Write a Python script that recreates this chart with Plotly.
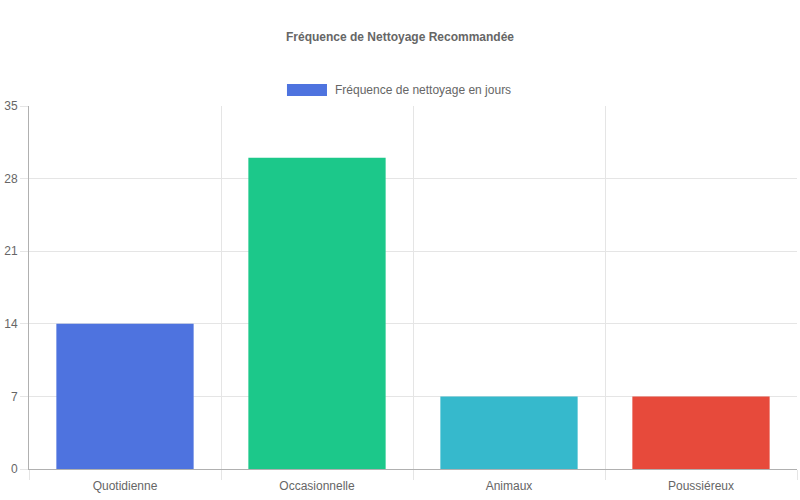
import plotly.graph_objects as go

# données
categories = ["Quotidienne", "Occasionnelle", "Animaux", "Poussiéreux"]
jours = [14, 30, 7, 7]
couleurs = ["#4e73df", "#1cc88a", "#36b9cc", "#e74a3b"]
nom_serie = "Fréquence de nettoyage en jours"

fig = go.Figure()
fig.add_trace(go.Bar(
    x=categories, y=jours, name=nom_serie,
    marker=dict(color=couleurs, line=dict(width=0)),
    width=0.715, showlegend=False,
))

# légende façon Chart.js
fig.add_shape(type="rect", xref="paper", yref="paper",
              x0=0.3359, x1=0.388, y0=1.0275, y1=1.0606,
              fillcolor=couleurs[0], line=dict(width=0))
fig.add_annotation(text=nom_serie, xref="paper", yref="paper",
                   x=0.3958, y=1.044, xanchor="left", yanchor="middle",
                   showarrow=False, font=dict(size=12, color="#666"))

fig.update_layout(
    width=800, height=500,
    margin=dict(l=29, r=3, t=106, b=31, autoexpand=False),
    paper_bgcolor="white", plot_bgcolor="white",
    font=dict(family="Liberation Sans, Arial, sans-serif", size=12, color="#666"),
    title=dict(text="<b>Fréquence de Nettoyage Recommandée</b>",
               x=0.5, xanchor="center", y=1 - 37 / 500, yanchor="middle",
               font=dict(size=12, color="#666")),
)
fig.update_xaxes(
    type="category", tickson="boundaries", range=[-0.5, 3.5],
    showgrid=True, gridcolor="#e5e5e5", gridwidth=1,
    ticks="outside", ticklen=10, tickcolor="#e5e5e5",
    showline=True, linecolor="#b0b0b0", linewidth=1,
    ticklabelstandoff=6,
    tickfont=dict(size=12, color="#666"),
)
fig.update_yaxes(
    range=[0, 35], tickvals=[0, 7, 14, 21, 28, 35],
    showgrid=True, gridcolor="#e5e5e5", gridwidth=1,
    ticks="outside", ticklen=8, tickcolor="#e5e5e5",
    showline=True, linecolor="#b0b0b0", linewidth=1,
    zeroline=False, tickfont=dict(size=12, color="#666"),
)

# pas de marge de page autour du graphique
fig.write_html("out.html", config={"displayModeBar": False},
               post_script="document.body.style.margin='0';")
